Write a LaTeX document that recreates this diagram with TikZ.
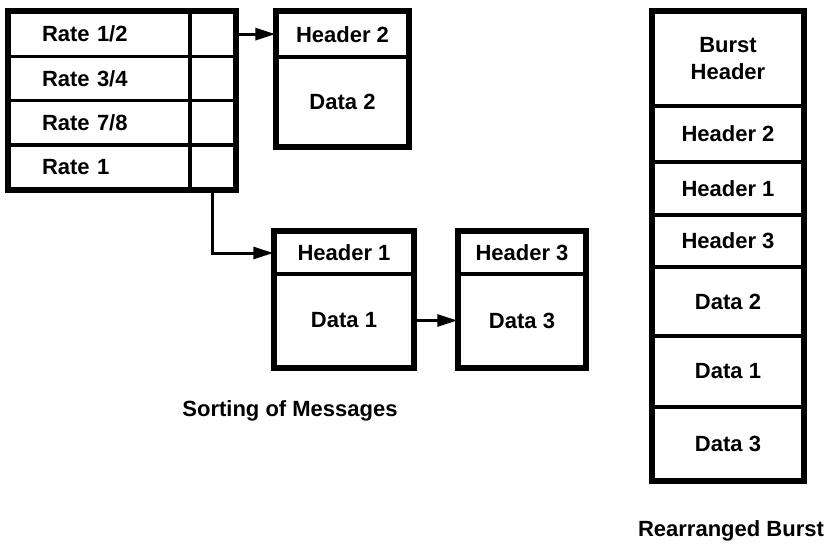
\documentclass[tikz,border=0pt]{standalone}
\usepackage{fontspec}
\setmainfont{Liberation Sans}
\usetikzlibrary{arrows.meta,positioning}

\tikzset{
  cell/.style={draw,line width=3.5pt,inner sep=0pt,font=\bfseries\fontsize{22}{25}\selectfont},
  frame/.style={draw,line width=5pt},
  link/.style={line width=3pt,-{Triangle[length=20pt,width=12pt]}},
  caption/.style={font=\bfseries\fontsize{22}{25}\selectfont}
}

\begin{document}
\begin{tikzpicture}[x=1pt,y=-1pt]
  \useasboundingbox (0,0) rectangle (831,546);

  % Rate table: label cell and pointer cell per row
  \foreach \i/\txt in {1/{Rate 1/2},2/{Rate 3/4},3/{Rate 7/8},4/{Rate 1}} {
    \node[cell,minimum width=181pt,minimum height=44.25pt,text width=115pt,align=left]
      (rate\i) at (99.5,{12+44.25*(\i-0.5)}) {\txt};
    \node[cell,minimum width=45pt,minimum height=44.25pt] (ptr\i) at (212.5,{12+44.25*(\i-0.5)}) {};
  }
  \draw[frame] (rate1.north west) rectangle (ptr4.south east);

  % Messages
  \node[cell,minimum width=131pt,minimum height=45pt] (hdr2) at (342.5,34.5) {Header 2};
  \node[cell,minimum width=131pt,minimum height=89pt] (data2) at (342.5,101.5) {Data 2};
  \draw[frame] (hdr2.north west) rectangle (data2.south east);

  \node[cell,minimum width=138pt,minimum height=42pt] (hdr1) at (344,253) {Header 1};
  \node[cell,minimum width=138pt,minimum height=93pt] (data1) at (344,320.5) {Data 1};
  \draw[frame] (hdr1.north west) rectangle (data1.south east);

  \node[cell,minimum width=126pt,minimum height=42pt] (hdr3) at (522,253) {Header 3};
  \node[cell,minimum width=126pt,minimum height=93pt] (data3) at (522,320.5) {Data 3};
  \draw[frame] (hdr3.north west) rectangle (data3.south east);

  \draw[link] (ptr1.east) -- (ptr1.east -| hdr2.west);
  \draw[link] (ptr4.south) |- (hdr1.west);
  \draw[link] (data1.east) -- (data1.east -| data3.west);

  \node[caption] (sorting) at (290,411) {Sorting of Messages};

  % Rearranged burst
  \node[cell,minimum width=150pt,minimum height=94pt,align=center] (bhdr) at (728,59) {Burst\\[2pt]Header};
  \node[cell,minimum width=150pt,minimum height=56pt] (bh2) at (728,134) {Header 2};
  \node[cell,minimum width=150pt,minimum height=53pt] (bh1) at (728,188.5) {Header 1};
  \node[cell,minimum width=150pt,minimum height=52pt] (bh3) at (728,241) {Header 3};
  \node[cell,minimum width=150pt,minimum height=69pt] (bd2) at (728,301.5) {Data 2};
  \node[cell,minimum width=150pt,minimum height=71pt] (bd1) at (728,371.5) {Data 1};
  \node[cell,minimum width=150pt,minimum height=73pt] (bd3) at (728,443.5) {Data 3};
  \draw[frame] (bhdr.north west) rectangle (bd3.south east);

  \node[caption] (burst) at (731,531) {Rearranged Burst};
\end{tikzpicture}
\end{document}
